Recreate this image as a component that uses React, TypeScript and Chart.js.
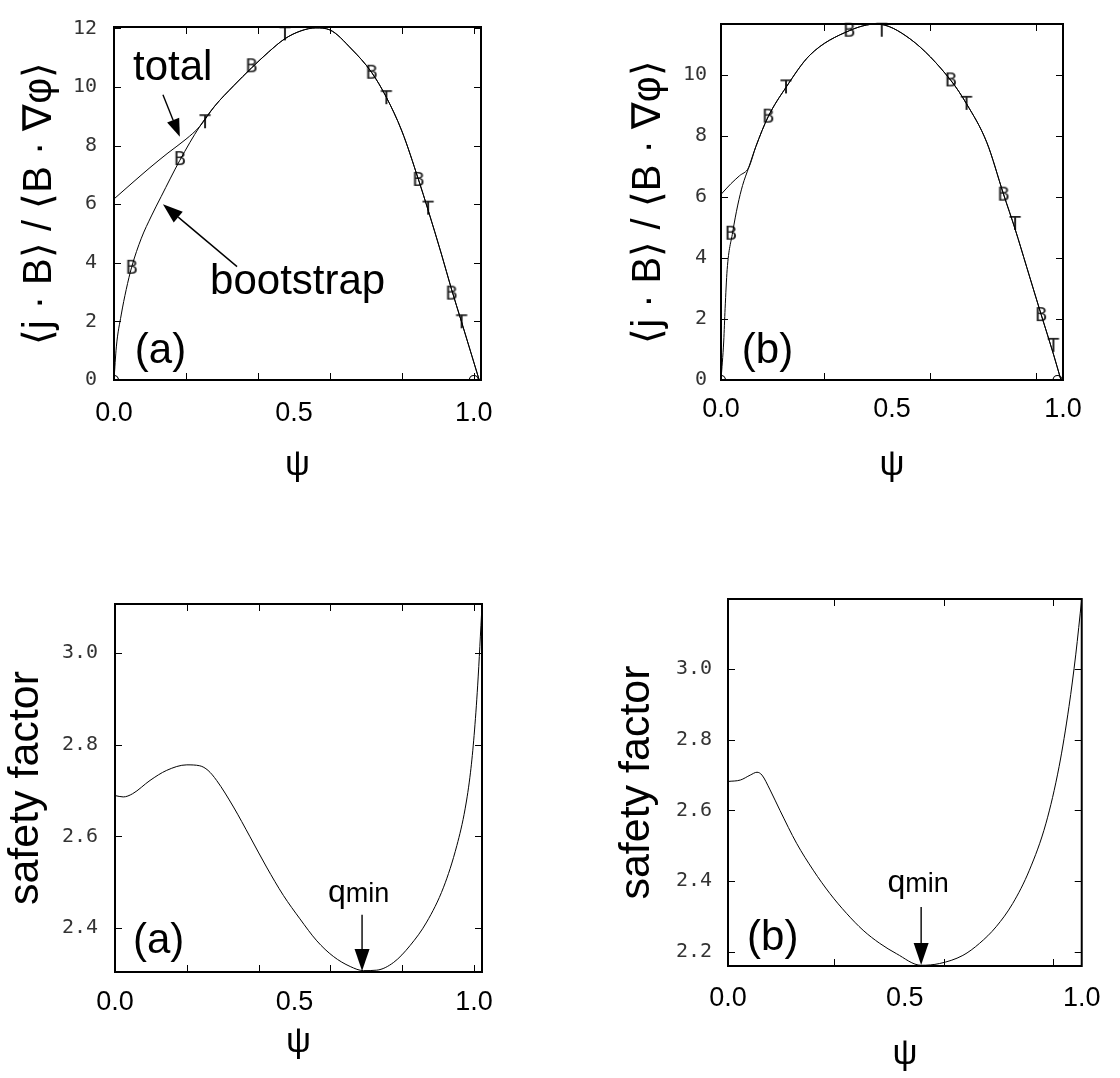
import React, { useEffect, useRef } from "react";
import { Chart, registerables } from "chart.js";

Chart.register(...registerables);

const SANS = '"Liberation Sans", Arial, Helvetica, sans-serif';
const MONO = '"DejaVu Sans Mono", "Liberation Mono", monospace';

// ---------- panel (a), top: <j.B>/<B.grad phi> ----------
const psiBootA = [0, 0.0065, 0.02, 0.034, 0.049, 0.076, 0.104, 0.131, 0.183, 0.238, 0.28, 0.333, 0.382, 0.43, 0.475, 0.52, 0.561, 0.6, 0.66, 0.716, 0.757, 0.8, 0.846, 0.873, 0.91, 0.938, 0.966, 0.994, 1.015];
const jbBootA = [0, 1.13, 2.22, 3.09, 3.85, 4.84, 5.6, 6.26, 7.5, 8.65, 9.35, 10.05, 10.65, 11.2, 11.65, 11.92, 12.02, 11.95, 11.3, 10.5, 9.65, 8.5, 6.85, 5.8, 4.3, 3.1, 1.98, 0.85, 0];
const psiTotalA = [0, 0.05, 0.1, 0.15, 0.2, 0.238, 0.28, 0.333, 0.382, 0.43, 0.475, 0.52, 0.561, 0.6, 0.66, 0.716, 0.757, 0.8, 0.846, 0.873, 0.91, 0.938, 0.966, 0.994, 1.015];
const jbTotalA = [6.18, 6.72, 7.25, 7.75, 8.22, 8.65, 9.35, 10.05, 10.65, 11.2, 11.65, 11.92, 12.02, 11.95, 11.3, 10.5, 9.65, 8.5, 6.85, 5.8, 4.3, 3.1, 1.98, 0.85, 0];
const psiMarkBA = [0.049, 0.183, 0.382, 0.716, 0.846, 0.938];
const jbMarkBA = [3.83, 7.54, 10.71, 10.49, 6.83, 2.95];
const psiMarkTA = [0.253, 0.475, 0.757, 0.873, 0.966];
const jbMarkTA = [8.8, 11.8, 9.62, 5.85, 1.97];
const psiEndsA = [0, 1.0];
const jbEndsA = [0, 0];
const yTicksTopA = [0, 2, 4, 6, 8, 10, 12];

// ---------- panel (b), top ----------
const psiBootB = [0, 0.008, 0.012, 0.018, 0.034, 0.049, 0.063, 0.081, 0.102, 0.138, 0.19, 0.26, 0.375, 0.455, 0.553, 0.672, 0.718, 0.777, 0.826, 0.86, 0.894, 0.936, 0.972, 0.994];
const jbBootB = [0, 1.28, 2.34, 3.62, 4.84, 5.74, 6.38, 6.97, 7.66, 8.64, 9.6, 10.66, 11.46, 11.68, 11.19, 9.83, 9.06, 7.8, 6.1, 4.95, 3.7, 2.15, 0.85, 0];
const psiTotalB = [0, 0.029, 0.054, 0.081, 0.102, 0.138, 0.19, 0.26, 0.375, 0.455, 0.553, 0.672, 0.718, 0.777, 0.826, 0.86, 0.894, 0.936, 0.972, 0.994];
const jbTotalB = [6.09, 6.44, 6.7, 6.97, 7.66, 8.64, 9.6, 10.66, 11.46, 11.68, 11.19, 9.83, 9.06, 7.8, 6.1, 4.95, 3.7, 2.15, 0.85, 0];
const psiMarkBB = [0.029, 0.138, 0.375, 0.672, 0.826, 0.936];
const jbMarkBB = [4.8, 8.64, 11.46, 9.83, 6.08, 2.13];
const psiMarkTB = [0.19, 0.47, 0.718, 0.86, 0.972];
const jbMarkTB = [9.6, 11.46, 9.06, 5.12, 1.12];
const psiEndsB = [0, 0.984];
const jbEndsB = [0, 0];
const yTicksTopB = [0, 2, 4, 6, 8, 10];

// ---------- panel (a), bottom: safety factor ----------
const psiQA = [0, 0.023, 0.049, 0.0975, 0.144, 0.2, 0.236, 0.259, 0.283, 0.33, 0.376, 0.422, 0.469, 0.515, 0.562, 0.608, 0.655, 0.692, 0.729, 0.776, 0.822, 0.868, 0.915, 0.952, 0.975, 0.99, 1.0, 1.01, 1.022];
const qA = [2.689, 2.686, 2.693, 2.722, 2.744, 2.756, 2.754, 2.744, 2.722, 2.664, 2.599, 2.533, 2.471, 2.42, 2.372, 2.338, 2.316, 2.307, 2.308, 2.325, 2.362, 2.413, 2.489, 2.58, 2.66, 2.74, 2.82, 2.93, 3.104];
const yTicksBotA = [2.4, 2.6, 2.8, 3.0];

// ---------- panel (b), bottom ----------
const psiQB = [0, 0.035, 0.063, 0.082, 0.096, 0.119, 0.147, 0.194, 0.241, 0.288, 0.335, 0.382, 0.429, 0.476, 0.546, 0.598, 0.664, 0.711, 0.758, 0.805, 0.852, 0.899, 0.936, 0.964, 0.983, 1.0];
const qB = [2.682, 2.686, 2.7, 2.708, 2.7, 2.658, 2.6, 2.507, 2.431, 2.365, 2.309, 2.261, 2.224, 2.195, 2.162, 2.167, 2.19, 2.224, 2.271, 2.337, 2.431, 2.564, 2.724, 2.894, 3.04, 3.198];
const yTicksBotB = [2.2, 2.4, 2.6, 2.8, 3.0];

// ---------- shared axis marks / labels ----------
const xLabels = [0, 0.5, 1.0];
const xMarksA = [0.2, 0.4, 0.6, 0.8, 1.0];
const xMarksB = [0.3, 0.61, 0.92];

const yTitleTop = "⟨j · B⟩ / ⟨B · ∇φ⟩";
const yTitleBot = "safety factor";
const xTitle = "ψ";

type Txt = { parts: { t: string; size: number }[]; x: number; y: number };
type Arr = { x1: number; y1: number; x2: number; y2: number; len: number; w: number };
type Series = { x: number[]; y: number[]; kind: "line" | "B" | "T" | "end" };

type Panel = {
  left: number; top: number; w: number; h: number;
  padTop: number; padRight: number; padBottom: number;
  yAxisW: number; xAxisH: number;
  xMin: number; xMax: number; yMin: number; yMax: number;
  yTicks: number[]; yDigits: number; yTickPad: number; xTickPad: number;
  yTitle: string; yTitleSize: number; yTitlePad: number;
  xMarks: number[]; yMarks: number[];
  series: Series[];
  texts: Txt[]; arrows: Arr[];
};

function letterImage(ch: string): HTMLCanvasElement {
  const c = document.createElement("canvas");
  c.width = 16;
  c.height = 24;
  const g = c.getContext("2d")!;
  g.font = `20px ${MONO}`;
  g.fillStyle = "#222";
  g.textAlign = "center";
  g.textBaseline = "middle";
  g.fillText(ch, 8, 12.5);
  return c;
}

function drawArrow(ctx: CanvasRenderingContext2D, x1: number, y1: number, x2: number, y2: number, len: number, w: number) {
  const ang = Math.atan2(y2 - y1, x2 - x1);
  const bx = x2 - len * Math.cos(ang);
  const by = y2 - len * Math.sin(ang);
  ctx.beginPath();
  ctx.moveTo(x1, y1);
  ctx.lineTo(bx, by);
  ctx.stroke();
  ctx.beginPath();
  ctx.moveTo(x2, y2);
  ctx.lineTo(bx + (w / 2) * Math.sin(ang), by - (w / 2) * Math.cos(ang));
  ctx.lineTo(bx - (w / 2) * Math.sin(ang), by + (w / 2) * Math.cos(ang));
  ctx.closePath();
  ctx.fill();
}

function makeDecor(p: Panel) {
  return {
    id: "decor",
    afterDatasetsDraw(chart: any) {
      const { ctx, chartArea: a, scales } = chart;
      const xs = scales.x;
      const ys = scales.y;
      ctx.save();
      ctx.strokeStyle = "#000";
      ctx.fillStyle = "#000";
      ctx.lineWidth = 1;
      ctx.beginPath();
      p.xMarks.forEach((v) => {
        const px = Math.round(xs.getPixelForValue(v)) + 0.5;
        ctx.moveTo(px, a.bottom);
        ctx.lineTo(px, a.bottom - 7);
        ctx.moveTo(px, a.top);
        ctx.lineTo(px, a.top + 7);
      });
      p.yMarks.forEach((v) => {
        const py = Math.round(ys.getPixelForValue(v)) + 0.5;
        ctx.moveTo(a.left, py);
        ctx.lineTo(a.left + 7, py);
        ctx.moveTo(a.right, py);
        ctx.lineTo(a.right - 7, py);
      });
      ctx.stroke();
      ctx.lineWidth = 2;
      ctx.strokeRect(a.left, a.top, a.right - a.left, a.bottom - a.top);
      ctx.textAlign = "left";
      ctx.textBaseline = "alphabetic";
      p.texts.forEach((tx) => {
        let px = xs.getPixelForValue(tx.x);
        const py = ys.getPixelForValue(tx.y);
        tx.parts.forEach((part) => {
          ctx.font = `${part.size}px ${SANS}`;
          ctx.fillText(part.t, px, py);
          px += ctx.measureText(part.t).width;
        });
      });
      ctx.lineWidth = 1.4;
      p.arrows.forEach((ar) => {
        drawArrow(ctx, xs.getPixelForValue(ar.x1), ys.getPixelForValue(ar.y1), xs.getPixelForValue(ar.x2), ys.getPixelForValue(ar.y2), ar.len, ar.w);
      });
      ctx.restore();
    },
  };
}

function buildConfig(p: Panel): any {
  const imgB = letterImage("B");
  const imgT = letterImage("T");
  const datasets = p.series.map((s) => {
    const data = s.x.map((x, i) => ({ x, y: s.y[i] }));
    if (s.kind === "line") {
      return { data, showLine: true, borderColor: "#000", borderWidth: 1, pointRadius: 0, cubicInterpolationMode: "monotone", fill: false, clip: 1 };
    }
    if (s.kind === "end") {
      return { data, showLine: false, pointStyle: "circle", pointRadius: 4.5, borderColor: "#000", borderWidth: 1.2, backgroundColor: "rgba(0,0,0,0)", clip: 0 };
    }
    return { data, showLine: false, pointStyle: s.kind === "B" ? imgB : imgT, pointRadius: 6, clip: false };
  });
  return {
    type: "scatter",
    data: { datasets },
    options: {
      animation: false,
      responsive: false,
      events: [],
      layout: { padding: { left: 0, top: p.padTop, right: p.padRight, bottom: p.padBottom } },
      plugins: { legend: { display: false }, tooltip: { enabled: false } },
      scales: {
        x: {
          type: "linear",
          position: "bottom",
          min: p.xMin,
          max: p.xMax,
          grid: { display: false, drawTicks: false },
          border: { display: false },
          ticks: {
            color: "#000",
            font: { family: SANS, size: 27, lineHeight: 1 },
            padding: p.xTickPad,
            autoSkip: false,
            maxRotation: 0,
            callback: (v: any) => Number(v).toFixed(1),
          },
          afterBuildTicks: (s: any) => {
            s.ticks = xLabels.map((v) => ({ value: v }));
          },
          afterFit: (s: any) => {
            s.height = p.xAxisH;
          },
          title: { display: true, text: xTitle, color: "#000", font: { family: SANS, size: 35, lineHeight: 1 }, padding: { top: 0, bottom: 0 } },
        },
        y: {
          type: "linear",
          position: "left",
          min: p.yMin,
          max: p.yMax,
          grid: { display: false, drawTicks: false },
          border: { display: false },
          ticks: {
            color: "#333",
            font: { family: MONO, size: 20, lineHeight: 1 },
            padding: p.yTickPad,
            autoSkip: false,
            callback: (v: any) => Number(v).toFixed(p.yDigits),
          },
          afterBuildTicks: (s: any) => {
            s.ticks = p.yTicks.map((v) => ({ value: v }));
          },
          afterFit: (s: any) => {
            s.width = p.yAxisW;
          },
          title: { display: true, text: p.yTitle, color: "#000", font: { family: SANS, size: p.yTitleSize, lineHeight: 1 }, padding: { top: p.yTitlePad, bottom: 0 } },
        },
      },
    },
    plugins: [makeDecor(p)],
  };
}

const panels: Panel[] = [
  {
    left: 0, top: 0, w: 560, h: 540,
    padTop: 14, padRight: 79, padBottom: 57, yAxisW: 114, xAxisH: 103,
    xMin: 0, xMax: 1.02, yMin: 0, yMax: 12.05,
    yTicks: yTicksTopA, yDigits: 0, yTickPad: 17, xTickPad: 20.5,
    yTitle: yTitleTop, yTitleSize: 40, yTitlePad: 20,
    xMarks: xMarksA, yMarks: [2, 4, 6, 8, 10, 12],
    series: [
      { x: psiTotalA, y: jbTotalA, kind: "line" },
      { x: psiBootA, y: jbBootA, kind: "line" },
      { x: psiMarkBA, y: jbMarkBA, kind: "B" },
      { x: psiMarkTA, y: jbMarkTA, kind: "T" },
      { x: psiEndsA, y: jbEndsA, kind: "end" },
    ],
    texts: [
      { parts: [{ t: "total", size: 42 }], x: 0.053, y: 10.23 },
      { parts: [{ t: "bootstrap", size: 42 }], x: 0.267, y: 2.95 },
      { parts: [{ t: "(a)", size: 42 }], x: 0.058, y: 0.59 },
    ],
    arrows: [
      { x1: 0.136, y1: 9.74, x2: 0.183, y2: 8.3, len: 18, w: 13 },
      { x1: 0.342, y1: 3.87, x2: 0.136, y2: 6.0, len: 20, w: 14 },
    ],
  },
  {
    left: 560, top: 0, w: 560, h: 540,
    padTop: 14, padRight: 57, padBottom: 57, yAxisW: 161, xAxisH: 103,
    xMin: 0, xMax: 1.0, yMin: 0, yMax: 11.68,
    yTicks: yTicksTopB, yDigits: 0, yTickPad: 14, xTickPad: 16.5,
    yTitle: yTitleTop, yTitleSize: 40, yTitlePad: 69,
    xMarks: xMarksB, yMarks: [2, 4, 6, 8, 10],
    series: [
      { x: psiTotalB, y: jbTotalB, kind: "line" },
      { x: psiBootB, y: jbBootB, kind: "line" },
      { x: psiMarkBB, y: jbMarkBB, kind: "B" },
      { x: psiMarkTB, y: jbMarkTB, kind: "T" },
      { x: psiEndsB, y: jbEndsB, kind: "end" },
    ],
    texts: [{ parts: [{ t: "(b)", size: 42 }], x: 0.061, y: 0.57 }],
    arrows: [],
  },
  {
    left: 0, top: 540, w: 560, h: 538,
    padTop: 64, padRight: 78, padBottom: 18, yAxisW: 115, xAxisH: 88,
    xMin: 0, xMax: 1.022, yMin: 2.304, yMax: 3.107,
    yTicks: yTicksBotA, yDigits: 1, yTickPad: 17, xTickPad: 17.5,
    yTitle: yTitleBot, yTitleSize: 43, yTitlePad: 4.5,
    xMarks: xMarksA, yMarks: yTicksBotA,
    series: [{ x: psiQA, y: qA, kind: "line" }],
    texts: [
      { parts: [{ t: "(a)", size: 42 }], x: 0.05, y: 2.346 },
      { parts: [{ t: "q", size: 32 }, { t: "min", size: 27 }], x: 0.593, y: 2.457 },
    ],
    arrows: [{ x1: 0.688, y1: 2.429, x2: 0.688, y2: 2.306, len: 22, w: 15 }],
  },
  {
    left: 560, top: 540, w: 560, h: 538,
    padTop: 59, padRight: 37, padBottom: 6, yAxisW: 168, xAxisH: 106,
    xMin: 0, xMax: 1.0, yMin: 2.16, yMax: 3.198,
    yTicks: yTicksBotB, yDigits: 1, yTickPad: 16, xTickPad: 19.5,
    yTitle: yTitleBot, yTitleSize: 43, yTitlePad: 55.5,
    xMarks: xMarksB, yMarks: yTicksBotB,
    series: [{ x: psiQB, y: qB, kind: "line" }],
    texts: [
      { parts: [{ t: "(b)", size: 42 }], x: 0.054, y: 2.205 },
      { parts: [{ t: "q", size: 32 }, { t: "min", size: 27 }], x: 0.451, y: 2.369 },
    ],
    arrows: [{ x1: 0.546, y1: 2.327, x2: 0.546, y2: 2.163, len: 22, w: 15 }],
  },
];

function PanelChart({ p }: { p: Panel }) {
  const ref = useRef<HTMLCanvasElement>(null);
  useEffect(() => {
    const chart = new Chart(ref.current as HTMLCanvasElement, buildConfig(p));
    return () => chart.destroy();
  }, [p]);
  return (
    <canvas
      ref={ref}
      width={p.w}
      height={p.h}
      style={{ position: "absolute", left: p.left, top: p.top, width: p.w, height: p.h }}
    />
  );
}

export default function App() {
  return (
    <div style={{ position: "absolute", left: 0, top: 0, width: 1120, height: 1078, background: "#fff", overflow: "hidden" }}>
      {panels.map((p, i) => (
        <PanelChart key={i} p={p} />
      ))}
    </div>
  );
}
